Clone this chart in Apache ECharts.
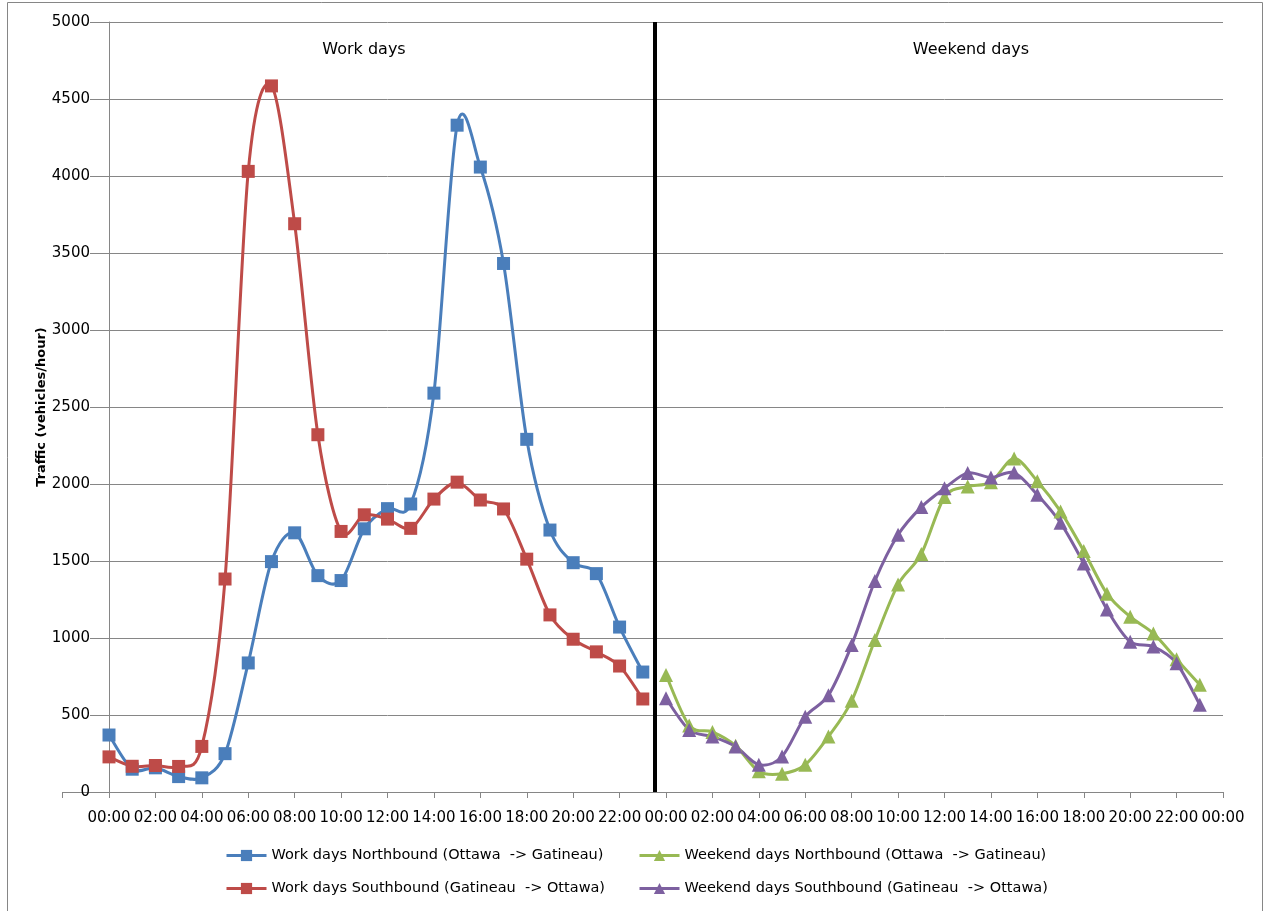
<!DOCTYPE html>
<html>
<head>
<meta charset="utf-8">
<script src="https://cdn.jsdelivr.net/npm/echarts@6/dist/echarts.min.js"></script>
<style>
html,body{margin:0;padding:0;background:#fff;}
#chart{width:1265px;height:911px;}
</style>
</head>
<body>
<div id="chart"></div>
<script>
// ---- data ----
const workHours = [0,1,2,3,4,5,6,7,8,9,10,11,12,13,14,15,16,17,18,19,20,21,22,23];
const weekendHours = [24,25,26,27,28,29,30,31,32,33,34,35,36,37,38,39,40,41,42,43,44,45,46,47];
const workNorth = [370,148,157,100,92,249,838,1496,1683,1405,1373,1709,1840,1870,2590,4330,4058,3432,2290,1701,1489,1418,1071,779];
const workSouth = [228,167,172,166,296,1383,4030,4585,3690,2320,1692,1800,1772,1712,1902,2012,1896,1838,1512,1150,992,910,818,604];
const weekendNorth = [760,432,390,300,134,119,177,360,592,987,1348,1545,1915,1983,2012,2165,2018,1822,1565,1288,1138,1030,862,697];
const weekendSouth = [608,403,360,295,177,231,489,629,954,1370,1670,1850,1972,2072,2042,2074,1930,1748,1484,1185,976,944,836,567];
const xTickLabels = ['00:00','02:00','04:00','06:00','08:00','10:00','12:00','14:00','16:00','18:00','20:00','22:00',
                     '00:00','02:00','04:00','06:00','08:00','10:00','12:00','14:00','16:00','18:00','20:00','22:00','00:00'];
const seriesNames = ['Work days Northbound (Ottawa  -> Gatineau)','Work days Southbound (Gatineau  -> Ottawa)',
                     'Weekend days Northbound (Ottawa  -> Gatineau)','Weekend days Southbound (Gatineau  -> Ottawa)'];
const dividerHour = 23.5;
const panelTitles = ['Work days','Weekend days'];
const yAxisTitle = 'Traffic (vehicles/hour)';

// ---- build ----
const FONT = 'DejaVu Sans';
const colors = ['#4A7EBB','#BE4B48','#98B954','#7D60A0'];
const pair = (xs, ys) => xs.map((x,i)=>[x, ys[i]]);
const chart = echarts.init(document.getElementById('chart'), null, {renderer:'canvas'});

const x0 = 109, x48 = 1223, unit = (x48 - x0)/48;
const gridTop = 22, gridBottom = 911 - 792, gridRight = 1265 - x48;

// markers + legend entry (line itself drawn by the curve series below)
function markerSeries(idx, xs, ys, symbol, extra){
  return Object.assign({
    name: seriesNames[idx], type:'line', xAxisIndex:0, yAxisIndex:0,
    data: pair(xs, ys), symbol: symbol, symbolSize: symbol==='rect'?13:14,
    showAllSymbol:true,
    color: colors[idx],
    lineStyle:{color:colors[idx], width:3, opacity:0},
    itemStyle:{color:colors[idx], borderWidth:0},
    z: 4
  }, extra||{});
}
// smooth curve through the data points (Excel-style cardinal spline), positioned with the axes' coord()
function curveSeries(idx, xs, ys){
  const n = xs.length;
  const k = 6.5;
  return {
    type:'custom', name: seriesNames[idx] + ' curve', xAxisIndex:0, yAxisIndex:0,
    data: pair(xs, ys), encode:{x:0, y:1}, z:3, silent:true, clip:false,
    renderItem:(params, api)=>{
      const i = params.dataIndex;
      if (i >= n-1) return {type:'group', children:[]};
      const P = m => { const j = Math.max(0, Math.min(n-1, m)); return api.coord([xs[j], ys[j]]); };
      const p0=P(i-1), p1=P(i), p2=P(i+1), p3=P(i+2);
      return {type:'bezierCurve',
        shape:{x1:p1[0], y1:p1[1], x2:p2[0], y2:p2[1],
          cpx1:p1[0]+(p2[0]-p0[0])/k, cpy1:p1[1]+(p2[1]-p0[1])/k,
          cpx2:p2[0]-(p3[0]-p1[0])/k, cpy2:p2[1]-(p3[1]-p1[1])/k},
        style:{stroke:colors[idx], lineWidth:3, fill:null, lineCap:'round', lineJoin:'round'}};
    }
  };
}

const legendBase = {
  itemWidth:40, itemHeight:14,
  lineStyle:{width:3, opacity:1},
  textStyle:{fontFamily:FONT, fontSize:14.5, color:'#000'}, padding:0
};

const option = {
  animation:false,
  backgroundColor:'#fff',
  grid:[
    {left:x0, right:gridRight, top:gridTop, bottom:gridBottom},
    {left:x0 - 2*unit, right:gridRight, top:gridTop, bottom:gridBottom}
  ],
  xAxis:[
    {gridIndex:0, type:'value', min:0, max:48, interval:2, show:false},
    {gridIndex:1, type:'value', min:-2, max:48, interval:2,
     axisLine:{show:true, onZero:false, lineStyle:{color:'#868686', width:1}},
     axisTick:{show:true, length:6, lineStyle:{color:'#868686'}},
     splitLine:{show:false},
     axisLabel:{margin:19, fontFamily:FONT, fontSize:15, color:'#000', showMinLabel:true, showMaxLabel:true,
       formatter:(v)=> v<0 ? '' : xTickLabels[Math.round(v/2)]}}
  ],
  yAxis:[
    {gridIndex:0, type:'value', min:0, max:5000, interval:500,
     axisLine:{show:true, lineStyle:{color:'#868686', width:1}},
     axisTick:{show:true, length:19, lineStyle:{color:'#868686'}},
     splitLine:{show:true, lineStyle:{color:'#868686', width:1}},
     axisLabel:{margin:19, fontFamily:FONT, fontSize:15, color:'#000', formatter:(v)=>String(v)}},
    {gridIndex:1, type:'value', min:0, max:5000, show:false}
  ],
  legend:[
    Object.assign({}, legendBase, {data:[seriesNames[0]], left:225, top:848}),
    Object.assign({}, legendBase, {data:[seriesNames[2]], left:638, top:848}),
    Object.assign({}, legendBase, {data:[seriesNames[1]], left:225, top:881}),
    Object.assign({}, legendBase, {data:[seriesNames[3]], left:638, top:881})
  ],
  graphic:[
    {type:'rect', shape:{x:7.5, y:2.5, width:1255, height:912}, style:{fill:'none', stroke:'#868686', lineWidth:1}, silent:true, z:-10},
    {type:'text', style:{text:panelTitles[0], x:364, y:50, align:'center', verticalAlign:'middle', font:'16px "DejaVu Sans"', fill:'#000'}},
    {type:'text', style:{text:panelTitles[1], x:971, y:50, align:'center', verticalAlign:'middle', font:'16px "DejaVu Sans"', fill:'#000'}},
    {type:'text', x:42, y:407, rotation:Math.PI/2,
     style:{text:yAxisTitle, x:0, y:0, align:'center', verticalAlign:'middle', font:'bold 13px "DejaVu Sans"', fill:'#000'}}
  ],
  series:[
    markerSeries(0, workHours, workNorth, 'rect', {
      markLine:{silent:true, symbol:'none', label:{show:false},
        lineStyle:{color:'#000', width:4, type:'solid', opacity:1},
        data:[{xAxis:dividerHour}], z:5}
    }),
    markerSeries(1, workHours, workSouth, 'rect'),
    markerSeries(2, weekendHours, weekendNorth, 'triangle'),
    markerSeries(3, weekendHours, weekendSouth, 'triangle'),
    curveSeries(0, workHours, workNorth),
    curveSeries(1, workHours, workSouth),
    curveSeries(2, weekendHours, weekendNorth),
    curveSeries(3, weekendHours, weekendSouth)
  ]
};
chart.setOption(option);
</script>
</body>
</html>
